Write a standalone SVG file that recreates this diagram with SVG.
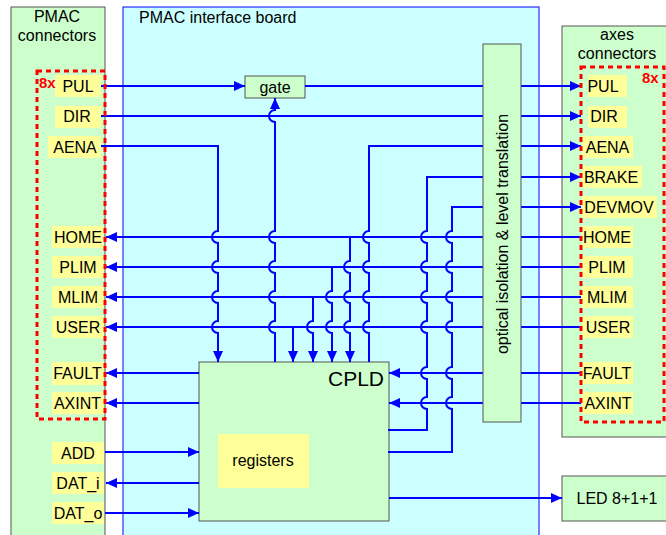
<svg xmlns="http://www.w3.org/2000/svg" width="666" height="535" viewBox="0 0 666 535">
<defs>
<marker id="ah" markerUnits="userSpaceOnUse" markerWidth="12" markerHeight="10" refX="11" refY="5" orient="auto"><path d="M0,0 L11,5 L0,10 z" fill="#0000ff"/></marker>
<style>
text{font-family:"Liberation Sans",Arial,sans-serif;fill:#000;}
.lbl{font-size:16px;text-anchor:middle;}
.ttl{font-size:16px;text-anchor:middle;}
.green{fill:#ccffcc;stroke:#555;stroke-width:1;}
.yel{fill:#ffff99;stroke:none;}
.red{fill:none;stroke:#ff0000;stroke-width:3;stroke-dasharray:5,4;}
.red8{font-size:15px;font-weight:bold;fill:#ff0000;}
.w{fill:none;stroke:#0000ff;stroke-width:2;}
.wa{fill:none;stroke:#0000ff;stroke-width:2;marker-end:url(#ah);}
</style>
</defs>
<rect width="666" height="535" fill="#ffffff"/>
<g id="pmac-connectors">
<rect class="green" x="11" y="7" width="94" height="540"/>
<text class="ttl" x="57" y="22">PMAC</text>
<text class="ttl" x="57" y="41">connectors</text>
</g>
<g id="interface-board">
<rect x="123" y="7" width="416" height="540" fill="#ccffff" stroke="#0000ff" stroke-width="1"/>
<text x="139" y="23" style="font-size:16px">PMAC interface board</text>
</g>
<g id="axes-connectors">
<rect class="green" x="562" y="26" width="110" height="411"/>
<text class="ttl" x="617" y="40">axes</text>
<text class="ttl" x="617" y="59">connectors</text>
</g>
<g id="led">
<rect class="green" x="562" y="476" width="110" height="45"/>
<text class="lbl" x="617" y="504">LED 8+1+1</text>
</g>
<g id="cpld">
<rect class="green" x="199" y="362" width="190" height="159"/>
<text x="384" y="386" style="font-size:21px;text-anchor:end">CPLD</text>
</g>
<g id="registers">
<rect class="yel" x="218" y="434" width="91" height="54"/>
<text class="lbl" x="263" y="466">registers</text>
</g>
<g id="gate">
<rect class="green" x="245" y="76" width="60" height="22"/>
<text class="lbl" x="275" y="92.5">gate</text>
</g>
<g id="connectors">
<path class="wa" d="M101,86 H245"/>
<path class="wa" d="M305,86 H581"/>
<path class="wa" d="M101,116 H581"/>
<path class="wa" d="M275,362 V333 a6,6 0 0 1 0,-12 V303 a6,6 0 0 1 0,-12 V273 a6,6 0 0 1 0,-12 V243 a6,6 0 0 1 0,-12 V122 a6,6 0 0 1 0,-12 V98"/>
<path class="wa" d="M101,146 H218 V231 a6,6 0 0 0 0,12 V261 a6,6 0 0 0 0,12 V291 a6,6 0 0 0 0,12 V321 a6,6 0 0 0 0,12 V362"/>
<path class="wa" d="M369,362 V333 a6,6 0 0 1 0,-12 V303 a6,6 0 0 1 0,-12 V273 a6,6 0 0 1 0,-12 V243 a6,6 0 0 1 0,-12 V146 H581"/>
<path class="wa" d="M388,430 H427 V409 a6,6 0 0 1 0,-12 V379 a6,6 0 0 1 0,-12 V333 a6,6 0 0 1 0,-12 V303 a6,6 0 0 1 0,-12 V273 a6,6 0 0 1 0,-12 V243 a6,6 0 0 1 0,-12 V177 H581"/>
<path class="wa" d="M388,452 H452 V409 a6,6 0 0 1 0,-12 V379 a6,6 0 0 1 0,-12 V333 a6,6 0 0 1 0,-12 V303 a6,6 0 0 1 0,-12 V273 a6,6 0 0 1 0,-12 V243 a6,6 0 0 1 0,-12 V207 H581"/>
<path class="wa" d="M581,237 H106"/>
<path class="wa" d="M581,267 H106"/>
<path class="wa" d="M581,297 H106"/>
<path class="wa" d="M581,327 H106"/>
<path class="wa" d="M350,237 V261 a6,6 0 0 0 0,12 V291 a6,6 0 0 0 0,12 V321 a6,6 0 0 0 0,12 V362"/>
<path class="wa" d="M332,267 V291 a6,6 0 0 0 0,12 V321 a6,6 0 0 0 0,12 V362"/>
<path class="wa" d="M313,297 V321 a6,6 0 0 0 0,12 V362"/>
<path class="wa" d="M293,327 V362"/>
<path class="wa" d="M199,373 H106"/>
<path class="wa" d="M199,403 H106"/>
<path class="wa" d="M581,373 H389"/>
<path class="wa" d="M581,403 H389"/>
<path class="wa" d="M105,452 H199"/>
<path class="wa" d="M199,483 H106"/>
<path class="wa" d="M105,513 H199"/>
<path class="wa" d="M389,498 H562"/>
</g>
<g id="optical">
<rect class="green" x="483" y="44" width="38" height="378"/>
<text x="0" y="0" transform="translate(508,234) rotate(-90)" style="font-size:16px;text-anchor:middle">optical isolation &amp; level translation</text>
</g>
<g id="left-labels">
<rect class="yel" x="55" y="75" width="46" height="22"/><text class="lbl" x="78" y="92">PUL</text>
<rect class="yel" x="55" y="106" width="46" height="22"/><text class="lbl" x="77" y="122">DIR</text>
<rect class="yel" x="48" y="136" width="53" height="22"/><text class="lbl" x="75" y="152.5">AENA</text>
<rect class="yel" x="52" y="226" width="52" height="22"/><text class="lbl" x="78" y="243">HOME</text>
<rect class="yel" x="52" y="256" width="52" height="22"/><text class="lbl" x="78" y="273">PLIM</text>
<rect class="yel" x="52" y="286" width="52" height="22"/><text class="lbl" x="78" y="303">MLIM</text>
<rect class="yel" x="52" y="316" width="52" height="22"/><text class="lbl" x="78" y="333">USER</text>
<rect class="yel" x="52" y="362" width="52" height="23"/><text class="lbl" x="77.5" y="379">FAULT</text>
<rect class="yel" x="52" y="392" width="52" height="22"/><text class="lbl" x="77.5" y="409">AXINT</text>
<rect class="yel" x="52" y="442" width="52" height="22"/><text class="lbl" x="78" y="458.5">ADD</text>
<rect class="yel" x="52" y="472" width="52" height="22"/><text class="lbl" x="78" y="488.5">DAT_i</text>
<rect class="yel" x="52" y="502" width="52" height="22"/><text class="lbl" x="78" y="518.5">DAT_o</text>
</g>
<g id="left-group">
<rect class="red" x="37" y="71" width="68" height="348"/>
<text class="red8" x="39" y="88">8x</text>
</g>
<g id="right-labels">
<rect class="yel" x="588" y="75" width="39" height="22"/><text class="lbl" x="603" y="92">PUL</text>
<rect class="yel" x="588" y="106" width="39" height="22"/><text class="lbl" x="604" y="122">DIR</text>
<rect class="yel" x="582" y="136" width="51" height="22"/><text class="lbl" x="607.5" y="152.5">AENA</text>
<rect class="yel" x="582" y="166" width="60" height="22"/><text class="lbl" x="611" y="182.5">BRAKE</text>
<rect class="yel" x="582" y="196" width="75" height="22"/><text class="lbl" x="619" y="213">DEVMOV</text>
<rect class="yel" x="582" y="226" width="51" height="22"/><text class="lbl" x="607" y="243">HOME</text>
<rect class="yel" x="582" y="256" width="51" height="22"/><text class="lbl" x="607" y="273">PLIM</text>
<rect class="yel" x="582" y="286" width="51" height="22"/><text class="lbl" x="607" y="303">MLIM</text>
<rect class="yel" x="582" y="316" width="51" height="22"/><text class="lbl" x="608" y="333">USER</text>
<rect class="yel" x="582" y="362" width="51" height="22"/><text class="lbl" x="607" y="379">FAULT</text>
<rect class="yel" x="582" y="392" width="51" height="22"/><text class="lbl" x="608" y="409">AXINT</text>
</g>
<g id="right-group">
<rect class="red" x="581" y="67" width="83" height="355"/>
<text class="red8" x="642" y="83">8x</text>
</g>
</svg>
